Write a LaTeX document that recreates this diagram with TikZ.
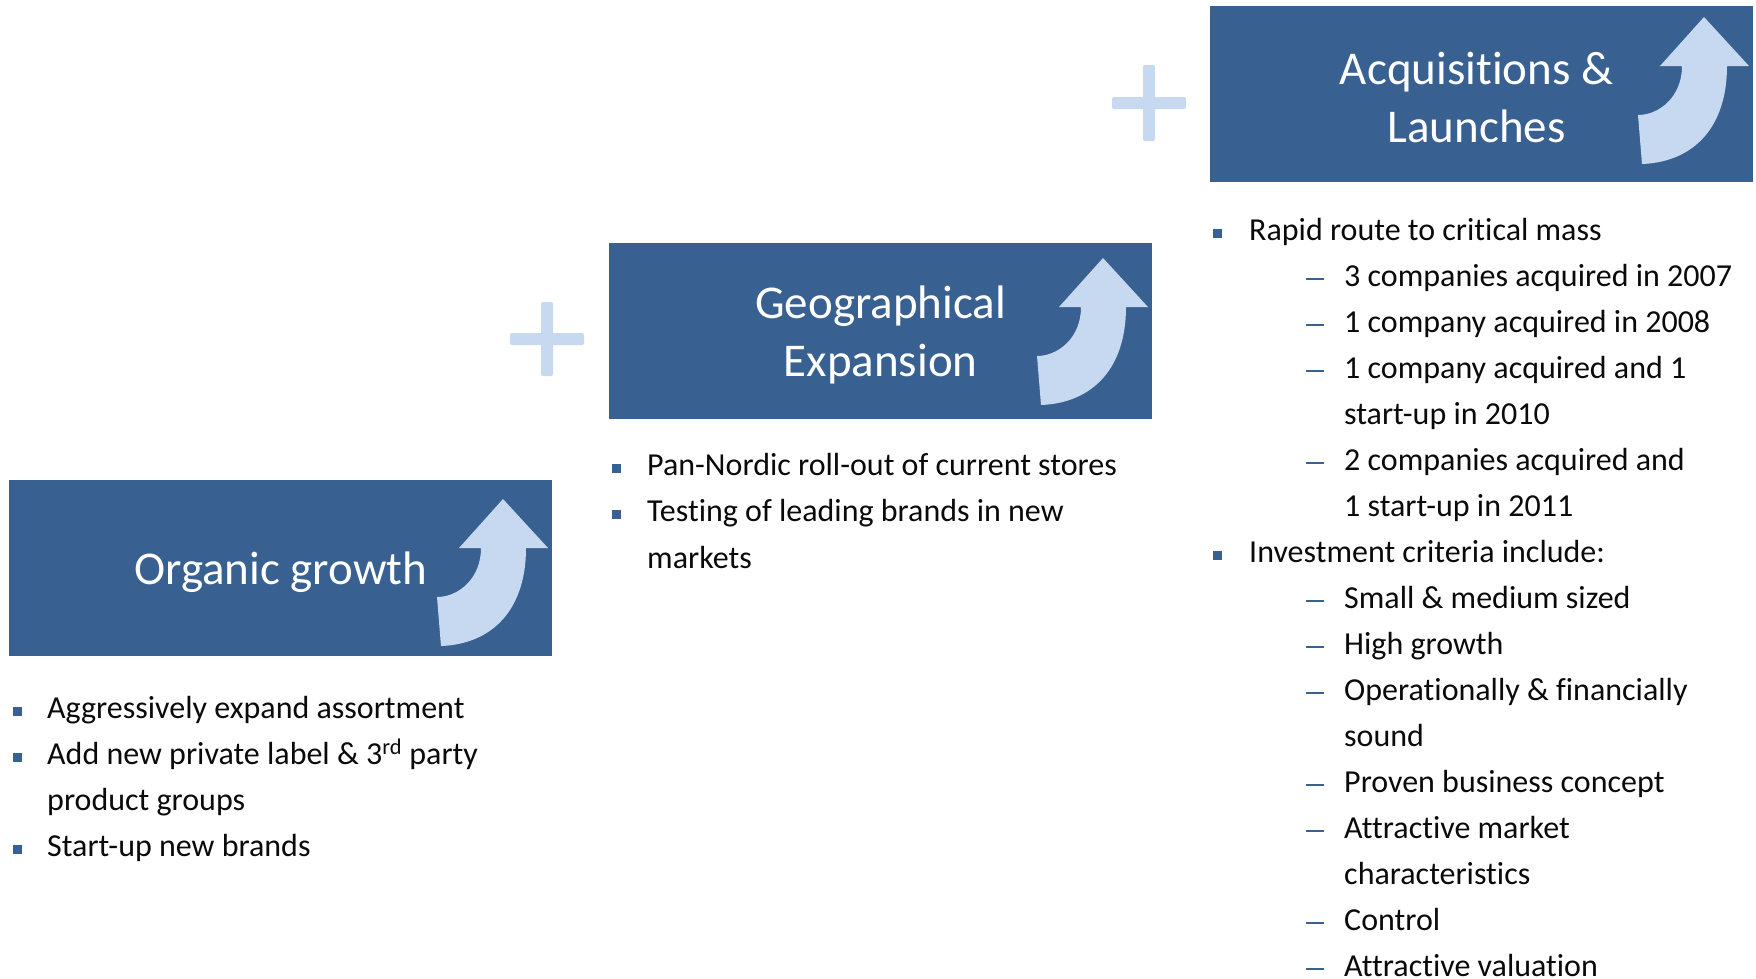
\documentclass[tikz,border=0pt]{standalone}
\usepackage{fontspec}
\setmainfont{Carlito}[Ligatures={NoCommon}]
\definecolor{boxblue}{RGB}{56,96,145}
\definecolor{lightblue}{RGB}{198,217,240}
\definecolor{txt}{RGB}{10,10,10}
\begin{document}
\begin{tikzpicture}[x=1pt,y=-1pt,
  titlebox/.style={fill=boxblue, draw=none, minimum width=543pt, minimum height=176pt, anchor=north west, inner sep=0},
  titletext/.style={text=white, font=\fontsize{47}{58}\selectfont, align=center},
  btext/.style={anchor=base west, font=\fontsize{32}{46}\selectfont, inner sep=0, text=txt},
  bsq/.style={fill=boxblue, minimum size=9pt, inner sep=0},
  dashm/.style={fill=boxblue, minimum width=18pt, minimum height=2.6pt, inner sep=0},
  plusbar/.style={fill=lightblue, rounded corners=2pt},
  curvarrow/.pic={\fill[lightblue] (0,0) -- (45,49) -- (23,49) .. controls (23,110) and (-10,145) .. (-62,147) -- (-66,98) .. controls (-45,98) and (-22,80) .. (-22,49) -- (-44,49) -- cycle;}
]
\useasboundingbox (0,0) rectangle (1756,978);

% boxes
\node[titlebox] (b1) at (9,480) {};
\node[titlebox] (b2) at (609,243) {};
\node[titlebox] (b3) at (1210,6) {};
\pic at (503,499) {curvarrow};
\pic at (1103,258) {curvarrow};
\pic at (1704,17) {curvarrow};
\node[titletext] (t1) at ([yshift=-4pt]b1.center) {Organic growth};
\node[titletext] (t2) at ([yshift=-4pt]b2.center) {Geographical\\Expansion};
\node[titletext] (t3) at ([xshift=-5pt,yshift=-3pt]b3.center) {Acquisitions \&\\Launches};

% plus signs
\fill[plusbar] (510,333) rectangle (584,345);
\fill[plusbar] (541,302) rectangle (553,376);
\fill[plusbar] (1112,97) rectangle (1186,109);
\fill[plusbar] (1143,65) rectangle (1155,141);

% organic bullets
\node[bsq] (os1) at (17,711) {};
\node[btext] (ot1) at (47,718) {Aggressively expand assortment};
\node[bsq] (os2) at (17,757) {};
\node[btext] (ot2) at (47,764) {Add new private label \& 3\textsuperscript{rd} party};
\node[btext] (ot3) at (47,810) {product groups};
\node[bsq] (os3) at (17,849) {};
\node[btext] (ot4) at (47,856) {Start-up new brands};

% geographical bullets
\node[bsq] (gs1) at (616,468) {};
\node[btext] (gt1) at (647,475) {Pan-Nordic roll-out of current stores};
\node[bsq] (gs2) at (616,514) {};
\node[btext] (gt2) at (647,521) {Testing of leading brands in new};
\node[btext] (gt3) at (647,568) {markets};

% acquisitions bullets
\node[bsq] (as1) at (1217,233) {};
\node[btext] (at1) at (1249,240) {Rapid route to critical mass};
\node[dashm] (ad1) at (1315,279) {};
\node[btext] (at2) at (1344,286) {3 companies acquired in 2007};
\node[dashm] (ad2) at (1315,325) {};
\node[btext] (at3) at (1344,332) {1 company acquired in 2008};
\node[dashm] (ad3) at (1315,371) {};
\node[btext] (at4) at (1344,378) {1 company acquired and 1};
\node[btext] (at5) at (1344,424) {start-up in 2010};
\node[dashm] (ad4) at (1315,463) {};
\node[btext] (at6) at (1344,470) {2 companies acquired and};
\node[btext] (at7) at (1344,516) {1 start-up in 2011};
\node[bsq] (as2) at (1217,555) {};
\node[btext] (at8) at (1249,562) {Investment criteria include:};
\node[dashm] (ad5) at (1315,601) {};
\node[btext] (at9) at (1344,608) {Small \& medium sized};
\node[dashm] (ad6) at (1315,647) {};
\node[btext] (at10) at (1344,654) {High growth};
\node[dashm] (ad7) at (1315,693) {};
\node[btext] (at11) at (1344,700) {Operationally \& financially};
\node[btext] (at12) at (1344,746) {sound};
\node[dashm] (ad8) at (1315,785) {};
\node[btext] (at13) at (1344,792) {Proven business concept};
\node[dashm] (ad9) at (1315,831) {};
\node[btext] (at14) at (1344,838) {Attractive market};
\node[btext] (at15) at (1344,884) {characteristics};
\node[dashm] (ad10) at (1315,923) {};
\node[btext] (at16) at (1344,930) {Control};
\node[dashm] (ad11) at (1315,969) {};
\node[btext] (at17) at (1344,976) {Attractive valuation};
\end{tikzpicture}
\end{document}
